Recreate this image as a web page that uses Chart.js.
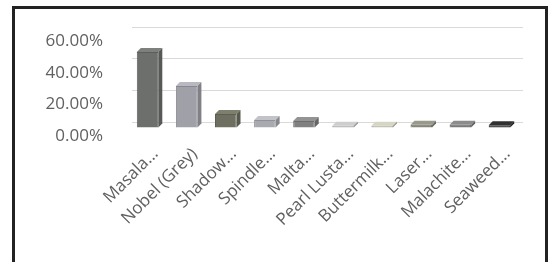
<!DOCTYPE html>
<html>
<head>
<meta charset="utf-8">
<script src="https://cdn.jsdelivr.net/npm/chart.js@4.4.1/dist/chart.umd.min.js"></script>
<style>
  html, body { margin: 0; padding: 0; background: #fff; }
  #wrap { position: relative; width: 549px; height: 262px; overflow: hidden; }
  #frame {
    position: absolute; left: 12px; top: 6px; width: 530px; height: 280px;
    border: 3px solid #222; border-bottom: none; pointer-events: none;
  }
</style>
</head>
<body>
<div id="wrap">
  <canvas id="grafico" width="549" height="262"></canvas>
  <div id="frame"></div>
</div>
<script>
const categorias = ['Masala...', 'Nobel (Grey)', 'Shadow...', 'Spindle...', 'Malta...',
  'Pearl Lusta...', 'Buttermilk...', 'Laser...', 'Malachite...', 'Seaweed...']
const valores = [0.48, 0.265, 0.088, 0.05, 0.045, 0.015, 0.015, 0.02, 0.02, 0.018]
const cores = ['#6d6f6c', '#a0a0a8', '#6e6f60', '#a9aab0', '#808080',
  '#b3b3b3', '#babaab', '#85857a', '#7a7a7a', '#2b2b2b']
const ticksY = [0, 0.2, 0.4, 0.6]

// front face is shifted down-left, depth faces join it back to the scale position
const frente = { dx: -4, dy: 6 }
const fundo = { dx: 0, dy: 2 }

function sombra(hex, f) {
  const n = parseInt(hex.slice(1), 16)
  const r = Math.min(255, Math.round(((n >> 16) & 255) * f))
  const g = Math.min(255, Math.round(((n >> 8) & 255) * f))
  const b = Math.min(255, Math.round((n & 255) * f))
  return `rgb(${r},${g},${b})`
}

const barras3d = {
  id: 'barras3d',
  beforeDatasetsDraw(chart) {
    const ctx = chart.ctx
    const meta = chart.getDatasetMeta(0)
    ctx.save()
    meta.data.forEach((bar, i) => {
      const p = bar.getProps(['x', 'y', 'base', 'width'], true)
      const l = p.x - p.width / 2, r = p.x + p.width / 2
      const fl = l + frente.dx, fr = r + frente.dx, ft = p.y + frente.dy, fb = p.base + frente.dy
      const bl = l + fundo.dx, br = r + fundo.dx, bt = p.y + fundo.dy, bb = p.base + fundo.dy
      // top face
      ctx.fillStyle = sombra(cores[i], 1.15)
      ctx.beginPath()
      ctx.moveTo(fl, ft); ctx.lineTo(bl, bt); ctx.lineTo(br, bt); ctx.lineTo(fr, ft)
      ctx.closePath(); ctx.fill()
      // side face
      ctx.fillStyle = sombra(cores[i], 0.8)
      ctx.beginPath()
      ctx.moveTo(fr, ft); ctx.lineTo(br, bt); ctx.lineTo(br, bb); ctx.lineTo(fr, fb)
      ctx.closePath(); ctx.fill()
    })
    ctx.translate(frente.dx, frente.dy)
  },
  afterDatasetsDraw(chart) {
    chart.ctx.restore()
  }
}

new Chart(document.getElementById('grafico'), {
  type: 'bar',
  data: {
    labels: categorias,
    datasets: [{
      data: valores,
      backgroundColor: cores,
      borderColor: cores.map(c => sombra(c, 0.85)),
      borderWidth: 1,
      barPercentage: 0.55,
      categoryPercentage: 1
    }]
  },
  options: {
    responsive: false,
    animation: false,
    layout: { padding: { top: 27, right: 26, left: 0, bottom: 0 } },
    plugins: { legend: { display: false }, tooltip: { enabled: false } },
    scales: {
      y: {
        min: 0, max: 0.6,
        afterBuildTicks: (scale) => { scale.ticks = ticksY.map(v => ({ value: v })) },
        afterFit: (scale) => {
          scale.width = 132
          scale.paddingTop = 0
          scale.paddingBottom = 0
        },
        border: { display: false },
        grid: { color: '#d9d9d9', drawTicks: false },
        ticks: {
          padding: 29,
          labelOffset: 14,
          color: '#606060',
          font: { family: 'Open Sans', size: 17 },
          callback: (v) => (v * 100).toFixed(2) + '%'
        }
      },
      x: {
        afterFit: (scale) => { scale.height = 140 },
        border: { display: false },
        grid: { display: false },
        ticks: {
          minRotation: 45, maxRotation: 45,
          autoSkip: false,
          padding: 14,
          labelOffset: 4,
          color: '#606060',
          font: { family: 'Open Sans', size: 17 }
        }
      }
    }
  },
  plugins: [barras3d]
})
</script>
</body>
</html>
